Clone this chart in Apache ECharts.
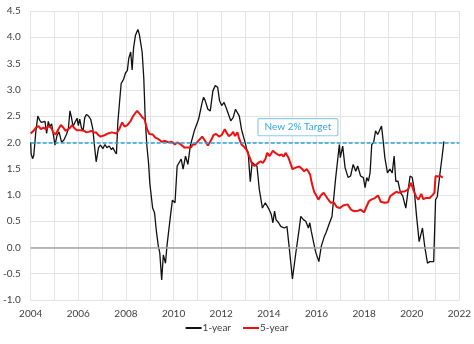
<!DOCTYPE html>
<html>
<head>
<meta charset="utf-8">
<script src="https://cdn.jsdelivr.net/npm/echarts@6/dist/echarts.min.js"></script>
<style>
html,body{margin:0;padding:0;background:#fff;}
#chart{width:474px;height:344px;}
</style>
</head>
<body>
<div id="chart"></div>
<script>
// 1-year series: decimal year, value (%)
const oneYearT = [2004.00,2004.02,2004.08,2004.13,2004.22,2004.30,2004.38,2004.45,2004.52,2004.60,2004.67,2004.74,2004.80,2004.88,2004.95,
2005.02,2005.10,2005.19,2005.30,2005.40,2005.50,2005.58,2005.65,2005.71,2005.78,2005.88,2005.95,
2006.00,2006.06,2006.13,2006.20,2006.27,2006.34,2006.43,2006.52,2006.61,2006.68,2006.75,2006.85,2006.93,
2007.03,2007.12,2007.20,2007.30,2007.39,2007.45,2007.53,2007.60,2007.66,2007.73,2007.80,2007.90,2007.98,
2008.06,2008.12,2008.20,2008.26,2008.32,2008.40,2008.50,2008.56,2008.68,2008.75,2008.81,2008.88,2008.95,
2009.00,2009.05,2009.12,2009.20,2009.28,2009.36,2009.42,2009.50,2009.57,2009.66,2009.72,2009.85,2009.95,
2010.06,2010.15,2010.32,2010.40,2010.50,2010.60,2010.70,2010.87,
2011.05,2011.20,2011.26,2011.33,2011.44,2011.54,2011.65,2011.75,2011.85,2011.93,
2012.02,2012.12,2012.23,2012.40,2012.50,2012.60,2012.68,2012.76,2012.85,2012.92,
2013.00,2013.07,2013.13,2013.22,2013.30,2013.39,2013.50,2013.60,2013.73,2013.85,2013.98,
2014.10,2014.17,2014.24,2014.30,2014.41,2014.50,2014.65,2014.76,2014.85,2014.99,
2015.13,2015.27,2015.34,2015.45,2015.55,2015.66,2015.72,2015.78,2015.86,2015.96,
2016.03,2016.10,2016.20,2016.33,2016.40,2016.55,2016.65,2016.80,2016.96,
2017.00,2017.10,2017.20,2017.33,2017.43,2017.54,2017.65,2017.73,2017.85,2017.97,
2018.04,2018.11,2018.18,2018.25,2018.32,2018.40,2018.48,2018.57,2018.65,2018.73,2018.80,2018.87,2018.98,
2019.08,2019.18,2019.26,2019.33,2019.42,2019.53,2019.62,2019.75,2019.85,2019.93,
2020.02,2020.10,2020.20,2020.31,2020.45,2020.55,2020.66,2020.75,2020.92,
2021.00,2021.07,2021.18,2021.28,2021.35];
const oneYearV = [2.00,1.78,1.69,1.75,2.22,2.50,2.42,2.38,2.36,2.40,2.17,2.40,2.30,2.35,2.37,
1.95,2.12,2.20,2.00,2.05,2.15,2.25,2.60,2.48,2.30,2.40,2.46,
2.32,2.44,2.28,2.22,2.47,2.53,2.50,2.44,2.25,1.93,1.63,1.90,1.95,
1.88,1.96,1.90,1.93,1.86,1.90,1.83,1.78,2.38,2.76,3.12,3.20,3.32,
3.37,3.60,3.72,3.38,3.80,4.04,4.15,4.06,3.72,3.21,2.44,1.93,1.60,
1.23,1.26,0.75,0.66,0.30,0.02,-0.10,-0.62,-0.14,-0.30,0.02,0.53,0.90,
0.85,1.55,1.68,1.49,1.74,1.58,1.93,2.22,
2.44,2.76,2.86,2.79,2.63,2.60,2.98,3.08,3.05,2.79,
2.70,2.76,2.63,2.41,2.47,2.63,2.65,2.50,2.25,2.22,
2.00,1.87,1.81,1.25,1.62,1.58,1.55,1.10,0.75,0.85,0.75,
0.63,0.47,0.69,0.53,0.47,0.40,0.37,0.40,0.02,-0.60,
-0.11,0.34,0.59,0.53,0.50,0.37,0.47,0.31,0.34,-0.08,
-0.08,-0.27,0.02,0.21,0.28,0.47,0.59,1.30,1.96,
1.71,1.93,1.52,1.33,1.36,1.58,1.45,1.55,1.36,1.33,
1.14,1.33,1.26,1.42,1.96,2.00,2.22,2.15,2.12,2.31,2.03,1.71,1.42,
1.49,1.42,1.74,1.26,1.26,1.04,0.98,0.75,1.10,1.36,
1.33,1.12,0.60,0.11,0.37,0.00,-0.30,-0.27,-0.27,
0.91,0.96,1.39,1.75,2.02];

// 5-year series: decimal year, value (%)
const fiveYearT = [2004.00,2004.06,2004.12,2004.22,2004.33,2004.43,2004.54,2004.64,2004.75,2004.85,2004.95,
2005.05,2005.16,2005.27,2005.37,2005.47,2005.57,2005.66,2005.74,2005.85,2005.96,
2006.10,2006.24,2006.34,2006.44,2006.54,2006.65,2006.75,2006.84,2006.93,
2007.00,2007.12,2007.25,2007.40,2007.60,2007.73,2007.84,2007.94,
2008.06,2008.20,2008.30,2008.38,2008.47,2008.56,2008.68,2008.78,2008.88,2008.98,
2009.12,2009.23,2009.37,2009.50,2009.64,2009.78,2009.92,
2010.06,2010.15,2010.30,2010.46,2010.60,2010.73,2010.80,2010.90,2010.98,
2011.20,2011.32,2011.44,2011.56,2011.68,2011.78,2011.91,
2012.02,2012.15,2012.24,2012.32,2012.42,2012.50,2012.58,2012.68,2012.76,2012.85,2012.95,
2013.06,2013.13,2013.20,2013.30,2013.40,2013.56,2013.65,2013.75,2013.85,2013.93,
2014.03,2014.17,2014.30,2014.44,2014.53,2014.62,2014.70,2014.82,2014.90,2014.99,
2015.13,2015.27,2015.38,2015.48,2015.60,2015.73,2015.80,2015.90,
2016.00,2016.08,2016.18,2016.30,2016.45,2016.60,2016.72,2016.85,2016.98,
2017.12,2017.30,2017.45,2017.57,2017.75,2017.85,
2018.00,2018.10,2018.20,2018.30,2018.45,2018.58,2018.70,2018.86,
2019.00,2019.10,2019.20,2019.35,2019.45,2019.58,2019.72,2019.84,2019.97,
2020.08,2020.18,2020.28,2020.40,2020.48,2020.60,2020.75,2020.88,2020.95,
2021.00,2021.10,2021.20,2021.30];
const fiveYearV = [2.17,2.15,2.22,2.28,2.31,2.25,2.28,2.25,2.31,2.28,2.19,
2.15,2.25,2.33,2.28,2.22,2.25,2.28,2.33,2.26,2.23,
2.23,2.22,2.19,2.20,2.22,2.19,2.19,2.14,2.11,
2.09,2.14,2.17,2.19,2.17,2.26,2.38,2.30,
2.33,2.41,2.50,2.55,2.60,2.55,2.48,2.44,2.26,2.16,
2.15,2.09,2.06,2.01,2.03,2.00,2.01,
1.96,2.00,1.96,1.90,1.90,1.90,1.96,1.96,2.00,
2.11,2.03,1.94,2.03,2.14,2.16,2.11,
2.14,2.25,2.17,2.12,2.15,2.20,2.12,2.19,2.06,1.96,1.92,
1.86,1.84,1.71,1.58,1.55,1.61,1.64,1.61,1.68,1.80,
1.74,1.84,1.79,1.75,1.77,1.73,1.80,1.71,1.61,1.49,
1.52,1.54,1.50,1.45,1.49,1.39,1.23,1.06,
0.98,0.91,0.99,1.04,0.94,0.85,0.86,0.77,0.75,
0.80,0.82,0.72,0.69,0.70,0.72,
0.67,0.78,0.88,0.91,0.94,0.99,0.87,0.85,
0.86,0.98,1.01,1.06,1.04,1.06,1.07,1.10,1.23,
1.08,0.97,0.91,1.02,0.92,0.94,0.94,1.00,1.04,
1.36,1.35,1.36,1.33];

const seriesNames = ['1-year', '5-year'];
const targetValue = 2.0;
const targetLabel = 'New 2% Target';
const targetLabelAt = [2015.22, 2.29];
const xMin = 2004, xMax = 2022;
const yMin = -1.0, yMax = 4.5;

const zip = (t, v) => t.map((x, i) => [x, v[i]]);
const FONT = 'Lato, "Open Sans", sans-serif';
const chart = echarts.init(document.getElementById('chart'), null, {renderer: 'canvas'});
chart.setOption({
  animation: false,
  backgroundColor: '#ffffff',
  textStyle: {fontFamily: FONT},
  grid: {left: 30, right: 11, top: 11, bottom: 44, containLabel: false},
  xAxis: {
    type: 'value', min: xMin, max: xMax, interval: 1,
    axisLine: {show: false}, axisTick: {show: false},
    splitLine: {show: true, lineStyle: {color: '#e3e3e3', width: 1}},
    axisLabel: {
      color: '#404040', fontSize: 10, fontFamily: FONT, margin: 9,
      formatter: v => (Math.round(v) % 2 === 0 ? String(Math.round(v)) : '')
    }
  },
  yAxis: {
    type: 'value', min: yMin, max: yMax, interval: 0.5,
    axisLine: {show: false}, axisTick: {show: false},
    splitLine: {show: true, lineStyle: {color: '#e3e3e3', width: 1}},
    axisLabel: {color: '#404040', fontSize: 10, fontFamily: FONT, margin: 10,
      formatter: v => v.toFixed(1)}
  },
  legend: {
    bottom: 6, left: 'center', itemGap: 12,
    icon: 'rect', itemWidth: 16, itemHeight: 2,
    textStyle: {color: '#404040', fontSize: 10, fontFamily: FONT, padding: [0,0,0,-4]},
    data: seriesNames
  },
  series: [
    {
      name: seriesNames[0], type: 'line', data: zip(oneYearT, oneYearV),
      showSymbol: false, symbol: 'none', color: '#111111',
      lineStyle: {color: '#111111', width: 1.3}, z: 3,
      markLine: {
        silent: true, symbol: 'none', label: {show: false},
        data: [{yAxis: 0, lineStyle: {color: '#a6a6a6', width: 1.5, type: 'solid'}}]
      }
    },
    {
      name: seriesNames[1], type: 'line', data: zip(fiveYearT, fiveYearV),
      showSymbol: false, symbol: 'none', color: '#ee1111',
      lineStyle: {color: '#ee1111', width: 2}, z: 4,
      markLine: {
        silent: true, symbol: 'none', label: {show: false},
        data: [{yAxis: targetValue, lineStyle: {color: '#2aa3d9', width: 1.5, type: [4, 2]}}]
      },
      markPoint: {
        silent: true,
        symbol: 'rect', symbolSize: 0,
        data: [{coord: targetLabelAt, value: targetLabel}],
        label: {
          show: true, position: 'inside', formatter: targetLabel,
          color: '#3aa3dc', fontSize: 10, fontFamily: FONT,
          backgroundColor: '#ffffff', borderColor: '#8ecdea', borderWidth: 1.2,
          borderRadius: 1, padding: [3, 6, 3, 6]
        }
      }
    }
  ]
});
</script>
</body>
</html>
